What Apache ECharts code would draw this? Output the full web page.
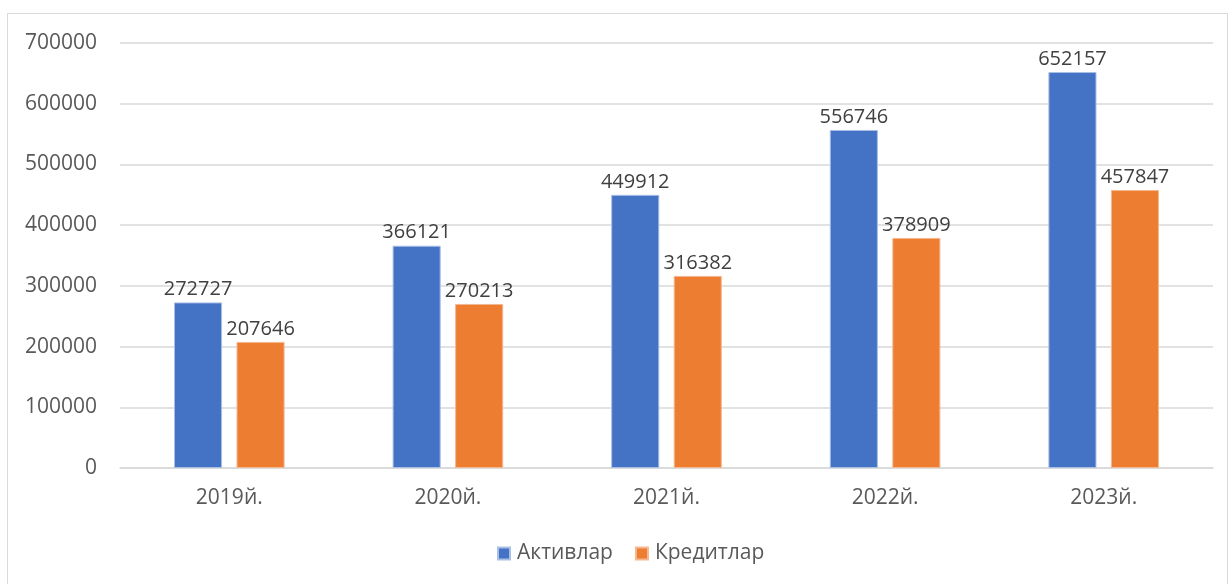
<!DOCTYPE html>
<html><head><meta charset="utf-8">
<script src="https://cdn.jsdelivr.net/npm/echarts@6/dist/echarts.min.js"></script>
<style>
html,body{margin:0;padding:0;background:#fff;}
#frame{position:absolute;left:7px;top:13px;width:1221px;height:580px;border:1.5px solid #d9d9d9;box-sizing:border-box;}
#c{position:absolute;left:0;top:0;width:1230px;height:584px;}
</style></head>
<body>
<div id="frame"></div>
<div id="c"></div>
<script>
const categories = ['2019й.', '2020й.', '2021й.', '2022й.', '2023й.'];
const aktivlar = [272727, 366121, 449912, 556746, 652157];
const kreditlar = [207646, 270213, 316382, 378909, 457847];
const seriesNames = ['Активлар', 'Кредитлар'];

const chart = echarts.init(document.getElementById('c'));
const font = '"Open Sans", "Noto Sans", sans-serif';
const lbl = {show:true, position:'top', distance:3, color:'#404040', fontSize:20, fontFamily:font};
chart.setOption({
  animation:false,
  grid:{left:120, right:17, top:43, bottom:116},
  legend:{bottom:15, left:492, itemWidth:12, itemHeight:12, itemGap:22,
    icon:'rect', textStyle:{color:'#595959', fontSize:21, fontFamily:font, padding:[0,0,0,2]},
    data:seriesNames},
  xAxis:{type:'category', data:categories,
    axisLine:{lineStyle:{color:'#d9d9d9', width:1.5}}, axisTick:{show:false},
    axisLabel:{color:'#595959', fontSize:21, fontFamily:font, margin:20}},
  yAxis:{type:'value', min:0, max:700000, interval:100000,
    axisLine:{show:false}, axisTick:{show:false},
    splitLine:{lineStyle:{color:'#d9d9d9', width:1.5}},
    axisLabel:{color:'#595959', fontSize:21, fontFamily:font, margin:23,
      formatter:function(v){return String(v);}}},
  series:[
    {name:seriesNames[0], type:'bar', data:aktivlar, barWidth:'22%', barGap:'30%',
     itemStyle:{color:'#4472c4', borderColor:'#a9bfe6', borderWidth:1}, label:lbl},
    {name:seriesNames[1], type:'bar', data:kreditlar, barWidth:'22%', barGap:'30%',
     itemStyle:{color:'#ed7d31', borderColor:'#f5b890', borderWidth:1}, label:lbl}
  ]
});
</script>
</body></html>
